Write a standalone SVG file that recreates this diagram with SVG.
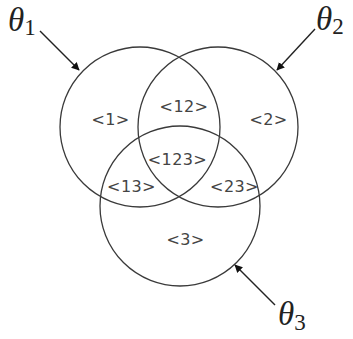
<svg xmlns="http://www.w3.org/2000/svg" width="353" height="339" viewBox="0 0 353 339">
<style>
.c{fill:none;stroke:#3a3a3a;stroke-width:1.3}
.l{font-family:"DejaVu Sans","Liberation Sans",sans-serif;font-size:16px;letter-spacing:0.4px;fill:#444;text-anchor:middle}
.t{font-family:"Liberation Serif",serif;font-style:italic;font-size:33px;fill:#222}
.s{font-family:"Liberation Serif",serif;font-size:23px;fill:#222}
.a{stroke:#222;stroke-width:1.4;fill:none;marker-end:url(#ah)}
</style>
<defs>
<marker id="ah" viewBox="0 0 10 10" refX="9" refY="5" markerWidth="8" markerHeight="8" markerUnits="userSpaceOnUse" orient="auto"><path d="M0,0L10,5L0,10z" fill="#111"/></marker>
</defs>
<rect width="353" height="339" fill="#fff"/>
<g id="set1"><circle class="c" cx="140" cy="127" r="80"/></g>
<g id="set2"><circle class="c" cx="218" cy="127" r="80"/></g>
<g id="set3"><circle class="c" cx="180" cy="206" r="80"/></g>
<g id="labels">
<text class="l" x="110.5" y="125">&lt;1&gt;</text>
<text class="l" x="184" y="112">&lt;12&gt;</text>
<text class="l" x="268.5" y="125">&lt;2&gt;</text>
<text class="l" x="177.5" y="165">&lt;123&gt;</text>
<text class="l" x="131.5" y="192">&lt;13&gt;</text>
<text class="l" x="234.5" y="192">&lt;23&gt;</text>
<text class="l" x="185.5" y="245">&lt;3&gt;</text>
</g>
<g id="theta1"><text x="8" y="31"><tspan class="t">θ</tspan><tspan class="s" dy="4">1</tspan></text></g>
<g id="theta2"><text x="316" y="30"><tspan class="t">θ</tspan><tspan class="s" dy="4">2</tspan></text></g>
<g id="theta3"><text x="278" y="325"><tspan class="t">θ</tspan><tspan class="s" dy="5">3</tspan></text></g>
<g id="connectors">
<line class="a" x1="40" y1="31" x2="79" y2="70"/>
<line class="a" x1="315" y1="29" x2="277" y2="70"/>
<line class="a" x1="275" y1="305" x2="235" y2="265"/>
</g>
</svg>
